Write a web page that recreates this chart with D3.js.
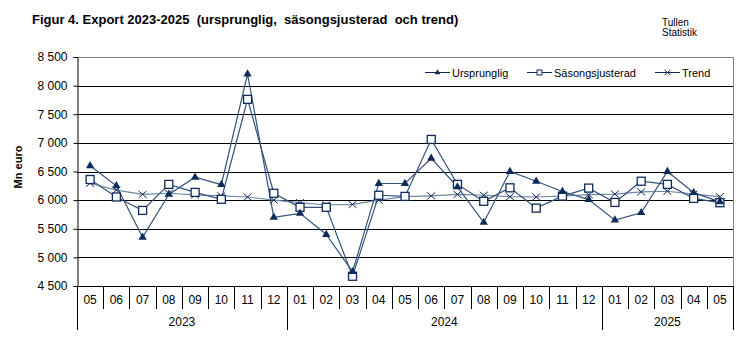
<!DOCTYPE html>
<html>
<head>
<meta charset="utf-8">
<script src="https://cdn.jsdelivr.net/npm/d3@7"></script>
<style>
  html, body { margin: 0; padding: 0; background: #fff; }
  svg { display: block; font-family: "Liberation Sans", Arial, sans-serif; }
  text { white-space: pre; }
</style>
</head>
<body>
<svg id="chart" width="756" height="340"></svg>
<script>
// ---- Data ----
const months = ["05","06","07","08","09","10","11","12",
                "01","02","03","04","05","06","07","08","09","10","11","12",
                "01","02","03","04","05"];
const years = ["2023", "2024", "2025"];
const yearCounts = [8, 12, 5];
const ursprunglig = [6600, 6250, 5350, 6100, 6400, 6270, 8200, 5700,
                     5770, 5400, 4750, 6290, 6290, 6730, 6230, 5610, 6500, 6330, 6150, 6010,
                     5650, 5780, 6500, 6130, 5970];
const sasongsjusterad = [6360, 6055, 5820, 6275, 6135, 6015, 7760, 6120,
                         5875, 5875, 4670, 6085, 6065, 7060, 6275, 5980, 6215, 5860, 6070, 6210,
                         5960, 6330, 6275, 6030, 5955];
const trend = [6295, 6175, 6100, 6120, 6090, 6075, 6055, 6000,
               5955, 5915, 5925, 6000, 6060, 6075, 6100, 6085, 6060, 6055, 6070, 6095,
               6105, 6145, 6155, 6105, 6060];
const yTicks = [4500, 5000, 5500, 6000, 6500, 7000, 7500, 8000, 8500];
const seriesNames = ["Ursprunglig", "Säsongsjusterad", "Trend"];

// ---- Layout ----
const svg = d3.select("#chart");
const L = 77, R = 733, T = 57, B = 286;
const navy = "#0f2b5b";
const lineCol = "#34527c";
const trendCol = "#6f86a6";

const x = d3.scaleBand().domain(d3.range(months.length)).range([L, R]).padding(0);
const y = d3.scaleLinear().domain([4500, 8500]).range([B, T]);
const cx = i => x(i) + x.bandwidth() / 2;
const fmt = v => d3.format(",")(v).replace(",", " ");

// Title
svg.append("text").attr("x", 32).attr("y", 23.5)
  .attr("font-size", 13).attr("font-weight", "bold").attr("fill", "#000")
  .text("Figur 4. Export 2023-2025  (ursprunglig,  säsongsjusterad  och trend)");
svg.append("text").attr("x", 662).attr("y", 25.5)
  .attr("font-size", 10).attr("fill", "#000").text("Tullen");
svg.append("text").attr("x", 662).attr("y", 35.5)
  .attr("font-size", 10).attr("fill", "#000").text("Statistik");

// Gridlines
svg.append("g").selectAll("line").data(yTicks.filter(v => v > 4500 && v < 8500)).join("line")
  .attr("x1", L).attr("x2", R)
  .attr("y1", d => Math.round(y(d)) + 0.5).attr("y2", d => Math.round(y(d)) + 0.5)
  .attr("stroke", "#000").attr("stroke-width", 1);

// Border (gray top & right)
svg.append("path")
  .attr("d", `M${L},${Math.round(T)+0.5}H${R+0.5}V${B}`)
  .attr("fill", "none").attr("stroke", "#808080").attr("stroke-width", 1);

// Y axis
const yAxis = svg.append("g").attr("transform", `translate(${L + 0.5},0)`)
  .call(d3.axisLeft(y).tickValues(yTicks).tickFormat(fmt).tickSize(4).tickPadding(6));
yAxis.select(".domain").attr("stroke", "#000");
yAxis.selectAll(".tick line").attr("stroke", "#000");
yAxis.selectAll(".tick text").attr("font-size", 12).attr("fill", "#000")
  .attr("font-family", "'Liberation Sans', Arial, sans-serif");

// Y label
svg.append("text")
  .attr("transform", `translate(22,167) rotate(-90)`)
  .attr("text-anchor", "middle").attr("font-size", 11).attr("font-weight", "bold")
  .attr("fill", "#000").text("Mn euro");

// X axis: baseline
svg.append("line").attr("x1", L).attr("x2", R + 0.5)
  .attr("y1", B + 0.5).attr("y2", B + 0.5).attr("stroke", "#000");

// Month separators & labels
const xAxis = svg.append("g").attr("transform", `translate(0,${B})`)
  .call(d3.axisBottom(x).tickFormat(i => months[i]).tickSize(0).tickPadding(9));
xAxis.select(".domain").remove();
xAxis.selectAll(".tick text").attr("font-size", 12).attr("fill", "#000")
  .attr("font-family", "'Liberation Sans', Arial, sans-serif");

const sepIdx = d3.range(0, months.length + 1);
const yearStarts = [0];
yearCounts.forEach((c, i) => yearStarts.push(yearStarts[i] + c));
svg.append("g").selectAll("line").data(sepIdx).join("line")
  .attr("x1", i => Math.round(i < months.length ? x(i) : R) + 0.5)
  .attr("x2", i => Math.round(i < months.length ? x(i) : R) + 0.5)
  .attr("y1", B)
  .attr("y2", i => yearStarts.includes(i) ? 330 : 309)
  .attr("stroke", "#000");

// Year labels
svg.append("g").selectAll("text").data(years).join("text")
  .attr("x", (d, i) => {
    const a = x(yearStarts[i]);
    const b = yearStarts[i + 1] < months.length ? x(yearStarts[i + 1]) : R;
    return (a + b) / 2;
  })
  .attr("y", 325.5).attr("text-anchor", "middle")
  .attr("font-size", 12).attr("fill", "#000").text(d => d);

// Lines
const line = d3.line().x((d, i) => cx(i)).y(d => y(d));
const plot = svg.append("g");
plot.append("path").datum(trend).attr("d", line)
  .attr("fill", "none").attr("stroke", trendCol).attr("stroke-width", 1.2);
plot.append("path").datum(sasongsjusterad).attr("d", line)
  .attr("fill", "none").attr("stroke", lineCol).attr("stroke-width", 1.2);
plot.append("path").datum(ursprunglig).attr("d", line)
  .attr("fill", "none").attr("stroke", lineCol).attr("stroke-width", 1.2);

// Markers
const triPath = d3.symbol().type(d3.symbolTriangle).size(30)();
const crossPath = "M-4,-3.5L4,3.5M-4,3.5L4,-3.5";

plot.append("g").selectAll("path").data(trend).join("path")
  .attr("transform", (d, i) => `translate(${cx(i)},${y(d)})`)
  .attr("d", crossPath).attr("stroke", navy).attr("stroke-width", 1).attr("fill", "none");
plot.append("g").selectAll("rect").data(sasongsjusterad).join("rect")
  .attr("x", (d, i) => cx(i) - 4).attr("y", d => y(d) - 4)
  .attr("width", 8).attr("height", 8)
  .attr("fill", "#fff").attr("stroke", navy).attr("stroke-width", 1.3);
plot.append("g").selectAll("path").data(ursprunglig).join("path")
  .attr("transform", (d, i) => `translate(${cx(i)},${y(d)})`)
  .attr("d", triPath).attr("fill", navy);

// Legend
const legend = svg.append("g");
const legItems = [
  { name: seriesNames[0], x1: 425, marker: "tri" },
  { name: seriesNames[1], x1: 527, marker: "sq" },
  { name: seriesNames[2], x1: 655, marker: "x" }
];
const ly = 72.5;
legItems.forEach(it => {
  const g = legend.append("g");
  g.append("line").attr("x1", it.x1).attr("x2", it.x1 + 25).attr("y1", ly).attr("y2", ly)
    .attr("stroke", it.marker === "x" ? navy : navy).attr("stroke-width", 1);
  const mx = it.x1 + 12.5;
  if (it.marker === "tri") {
    g.append("path").attr("transform", `translate(${mx},${ly})`)
      .attr("d", d3.symbol().type(d3.symbolTriangle).size(14)()).attr("fill", navy);
  } else if (it.marker === "sq") {
    g.append("rect").attr("x", mx - 2.5).attr("y", ly - 2.5).attr("width", 5).attr("height", 5)
      .attr("fill", "#fff").attr("stroke", navy).attr("stroke-width", 1);
  } else {
    g.append("path").attr("transform", `translate(${mx},${ly})`)
      .attr("d", "M-3,-2.5L3,2.5M-3,2.5L3,-2.5").attr("stroke", navy).attr("fill", "none");
  }
  g.append("text").attr("x", it.x1 + 27).attr("y", ly + 4)
    .attr("font-size", 11).attr("fill", "#000").text(it.name);
});
</script>
</body>
</html>
